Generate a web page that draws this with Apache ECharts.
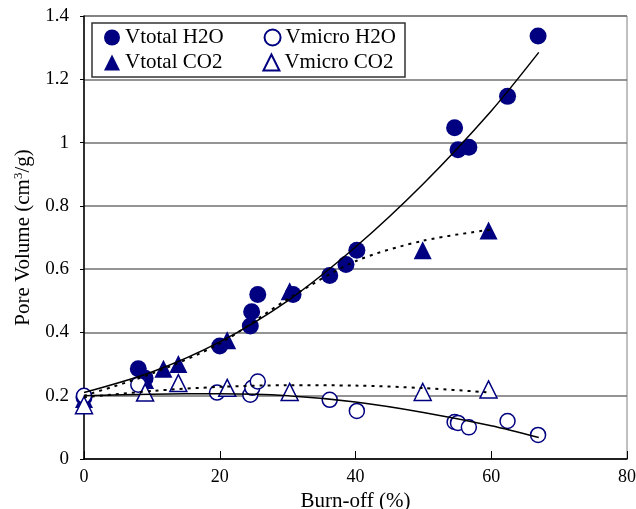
<!DOCTYPE html>
<html><head><meta charset="utf-8">
<script src="https://cdn.jsdelivr.net/npm/echarts@6/dist/echarts.min.js"></script>
<style>html,body{margin:0;padding:0;background:#fff}#c{width:636px;height:509px}</style>
</head><body><div id="c"></div>
<script>
// Scatter data (Burn-off %, Pore volume cm3/g)
const vtotalH2O_x = [0, 8, 9, 20, 24.5, 24.7, 25.6, 30.8, 36.2, 38.6, 40.2, 54.6, 55.1, 56.7, 62.4, 66.9];
const vtotalH2O_y = [0.195, 0.285, 0.255, 0.357, 0.42, 0.465, 0.52, 0.52, 0.58, 0.615, 0.66, 1.047, 0.977, 0.985, 1.146, 1.337];
const vtotalCO2_x = [0, 9, 11.7, 13.9, 21.1, 30.3, 49.9, 59.6];
const vtotalCO2_y = [0.19, 0.25, 0.285, 0.3, 0.375, 0.53, 0.66, 0.722];
const vmicroH2O_x = [0, 8, 19.6, 24.5, 24.8, 25.6, 36.2, 40.2, 54.6, 55.1, 56.7, 62.4, 66.9];
const vmicroH2O_y = [0.2, 0.235, 0.21, 0.203, 0.225, 0.245, 0.187, 0.152, 0.117, 0.114, 0.1, 0.12, 0.076];
const vmicroCO2_x = [0, 9, 13.9, 21.1, 30.3, 49.9, 59.6];
const vmicroCO2_y = [0.17, 0.21, 0.24, 0.225, 0.212, 0.212, 0.22];

// Trend lines
const trendTotalH2O_x = [0, 10, 20, 30, 40, 50, 60, 67];
const trendTotalH2O_y = [0.21, 0.275, 0.37, 0.5, 0.67, 0.87, 1.1, 1.285];
const trendTotalCO2_x = [0, 10, 20, 30, 40, 50, 60];
const trendTotalCO2_y = [0.2, 0.27, 0.365, 0.505, 0.625, 0.69, 0.725];
const trendMicroH2O_x = [0, 10, 20, 30, 40, 50, 60, 67];
const trendMicroH2O_y = [0.2, 0.205, 0.206, 0.2, 0.18, 0.147, 0.105, 0.068];
const trendMicroCO2_x = [0, 10, 20, 30, 40, 50, 60];
const trendMicroCO2_y = [0.195, 0.215, 0.228, 0.233, 0.232, 0.224, 0.21];

const seriesNames = ['Vtotal H2O', 'Vmicro H2O', 'Vtotal CO2', 'Vmicro CO2'];
const xTicks = {min: 0, max: 80, interval: 20};
const yTicks = {min: 0, max: 1.4, interval: 0.2};

const zip = (xs, ys) => xs.map((x, i) => [x, ys[i]]);
const NAVY = '#000080';
const FONT = 'Liberation Serif';

const chart = echarts.init(document.getElementById('c'), null, {renderer: 'canvas'});
const legendCommon = {
  itemWidth: 16, itemHeight: 16, itemGap: 40, padding: 0,
  textStyle: {fontFamily: FONT, fontSize: 21, color: '#000'},
  selectedMode: false
};
chart.setOption({
  animation: false,
  backgroundColor: '#fff',
  grid: {left: 84, right: 9, top: 16, bottom: 50, show: true, borderColor: '#808080', borderWidth: 1,
         backgroundColor: 'transparent', containLabel: false, outerBoundsMode: 'none'},
  graphic: [{type: 'rect', shape: {x: 92, y: 23, width: 313, height: 54}, style: {fill: '#fff', stroke: '#333', lineWidth: 1.5}, z: 5}],
  legend: [
    Object.assign({left: 104, top: 27, data: [seriesNames[0], seriesNames[1]], z: 10}, legendCommon),
    Object.assign({left: 104, top: 52, data: [seriesNames[2], seriesNames[3]], z: 10}, legendCommon)
  ],
  xAxis: {
    type: 'value', min: xTicks.min, max: xTicks.max, interval: xTicks.interval,
    name: 'Burn-off (%)', nameLocation: 'middle', nameGap: 30,
    nameTextStyle: {fontFamily: FONT, fontSize: 21, color: '#000'},
    axisLine: {lineStyle: {color: '#000', width: 1.5}},
    axisTick: {inside: true, length: 8, lineStyle: {color: '#000', width: 1}},
    axisLabel: {fontFamily: FONT, fontSize: 18, color: '#000', margin: 9},
    splitLine: {show: false}
  },
  yAxis: {
    type: 'value', min: yTicks.min, max: yTicks.max, interval: yTicks.interval,
    name: '{a|Pore Volume (cm}{s|3}{a|/g)}', nameLocation: 'middle', nameGap: 48, nameRotate: 90,
    nameTextStyle: {color: '#000', rich: {
      a: {fontFamily: FONT, fontSize: 21, color: '#000', lineHeight: 24},
      s: {fontFamily: FONT, fontSize: 13, color: '#000', verticalAlign: 'top', lineHeight: 24, padding: [0, 0, 8, 0]}
    }},
    axisLine: {show: true, lineStyle: {color: '#000', width: 1.5}},
    axisTick: {show: true, inside: false, length: 4, lineStyle: {color: '#000'}},
    axisLabel: {fontFamily: FONT, fontSize: 19, color: '#000', margin: 15},
    splitLine: {show: true, lineStyle: {color: '#707070', width: 1.5}}
  },
  series: [
    {name: seriesNames[0], type: 'scatter', symbol: 'circle', symbolSize: 17, z: 2,
     itemStyle: {color: NAVY, opacity: 1}, data: zip(vtotalH2O_x, vtotalH2O_y)},
    {name: seriesNames[2], type: 'scatter', symbol: 'triangle', symbolSize: 18, z: 2,
     itemStyle: {color: NAVY, opacity: 1}, data: zip(vtotalCO2_x, vtotalCO2_y)},
    {name: seriesNames[1], type: 'scatter', symbol: 'circle', symbolSize: 15, z: 3,
     itemStyle: {color: '#fff', borderColor: NAVY, borderWidth: 1.5, opacity: 1}, data: zip(vmicroH2O_x, vmicroH2O_y)},
    {name: seriesNames[3], type: 'scatter', symbol: 'triangle', symbolSize: 17, z: 3,
     itemStyle: {color: '#fff', borderColor: NAVY, borderWidth: 1.5, opacity: 1}, data: zip(vmicroCO2_x, vmicroCO2_y)},
    {name: 'trend total H2O', type: 'line', smooth: 0.3, showSymbol: false, symbol: 'none', z: 4,
     lineStyle: {color: '#000', width: 1.5}, data: zip(trendTotalH2O_x, trendTotalH2O_y)},
    {name: 'trend total CO2', type: 'line', smooth: 0.3, showSymbol: false, symbol: 'none', z: 4,
     lineStyle: {color: '#000', width: 2, type: [3, 5]}, data: zip(trendTotalCO2_x, trendTotalCO2_y)},
    {name: 'trend micro H2O', type: 'line', smooth: 0.3, showSymbol: false, symbol: 'none', z: 4,
     lineStyle: {color: '#000', width: 1.5}, data: zip(trendMicroH2O_x, trendMicroH2O_y)},
    {name: 'trend micro CO2', type: 'line', smooth: 0.3, showSymbol: false, symbol: 'none', z: 4,
     lineStyle: {color: '#000', width: 2, type: [3, 5]}, data: zip(trendMicroCO2_x, trendMicroCO2_y)}
  ]
});
</script></body></html>
